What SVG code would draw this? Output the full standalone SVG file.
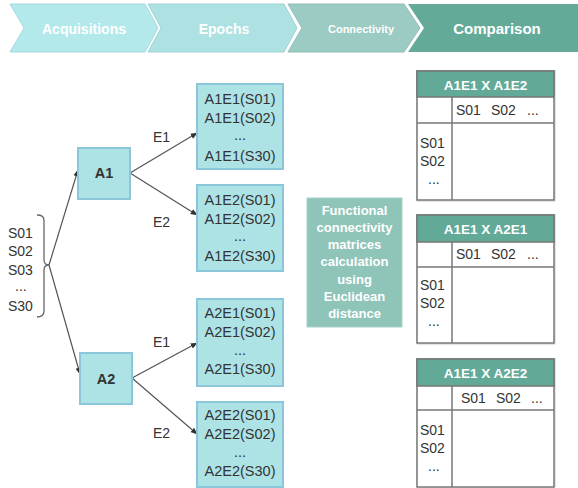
<svg xmlns="http://www.w3.org/2000/svg" width="578" height="488" viewBox="0 0 578 488">
<defs>
<marker id="ah" viewBox="0 0 10 10" refX="9" refY="5" markerWidth="7" markerHeight="7" orient="auto" markerUnits="userSpaceOnUse"><path d="M0,1 L10,5 L0,9 Z" fill="#333"/></marker>
<style>
text{font-family:"Liberation Sans",Arial,sans-serif;}
.hd{fill:#fff;font-weight:bold;text-anchor:middle;dominant-baseline:central;}
.nd{fill:#aee3e6;stroke:#8cc6da;stroke-width:2;}
.nt{fill:#333;font-size:14.5px;text-anchor:middle;}
.lb{fill:#333;font-size:14px;}
.edge{stroke:#555;stroke-width:1.2;fill:none;marker-end:url(#ah);}
.tb{fill:#fff;stroke:#777;stroke-width:1.5;}
.th{fill:#62a998;stroke:#777;stroke-width:1.5;}
.tl{stroke:#777;stroke-width:1.5;}
.tt{fill:#333;font-size:14px;}
.tht{fill:#fff;font-size:13.5px;font-weight:bold;text-anchor:middle;dominant-baseline:central;}
.sh{fill:#e4e4e4;}
</style>
</defs>
<rect width="578" height="488" fill="#fff"/>
<g id="header">
<g id="h1"><polygon points="10,4 145,4 158,28 145,52 10,52 24,28" fill="#b3e9eb" stroke="#a4dbe2" stroke-width="1"/><text class="hd" x="84" y="29" font-size="14">Acquisitions</text></g>
<g id="h2"><polygon points="148,4 284,4 297,28 284,52 148,52 161,28" fill="#aee1e2" stroke="#9fd3d6" stroke-width="1"/><text class="hd" x="224" y="29" font-size="14">Epochs</text></g>
<g id="h3"><polygon points="288,4 404,4 420,28 404,52 288,52 302,28" fill="#9bcbc2" stroke="#8fc0b6" stroke-width="1"/><text class="hd" x="361" y="29" font-size="11">Connectivity</text></g>
<g id="h4"><polygon points="408,4 578,4 578,52 408,52 424,28" fill="#64aa98"/><text class="hd" x="497" y="28" font-size="15">Comparison</text></g>
</g>
<g id="subjects">
<text class="lb" x="8" y="238">S01</text>
<text class="lb" x="8" y="256">S02</text>
<text class="lb" x="8" y="275">S03</text>
<text class="lb" x="15" y="291" font-size="11">...</text>
<text class="lb" x="8" y="311">S30</text>
<path d="M37,215 Q44,215 44,220 L44,260 Q44,265 49,265 Q44,265 44,270 L44,311 Q44,317 37,317" fill="none" stroke="#666" stroke-width="1.3"/>
</g>
<g id="connectors">
<line class="edge" x1="49" y1="265" x2="78" y2="170"/>
<line class="edge" x1="49" y1="265" x2="80" y2="374"/>
<line class="edge" x1="130" y1="173" x2="197" y2="133"/>
<line class="edge" x1="130" y1="173" x2="197" y2="215"/>
<line class="edge" x1="132" y1="378" x2="197" y2="343"/>
<line class="edge" x1="132" y1="378" x2="197" y2="434"/>
<text class="lb" x="153" y="142">E1</text>
<text class="lb" x="153" y="227">E2</text>
<text class="lb" x="153" y="347">E1</text>
<text class="lb" x="153" y="438">E2</text>
</g>
<g id="A1"><rect class="nd" x="78" y="148" width="52" height="51"/><text class="nt" x="104" y="178" font-weight="bold" font-size="14">A1</text></g>
<g id="A2"><rect class="nd" x="80" y="353" width="52" height="51"/><text class="nt" x="106" y="384" font-weight="bold" font-size="14">A2</text></g>
<g id="A1E1"><rect class="nd" x="197" y="84" width="86" height="85"/>
<text class="nt" x="240" y="104">A1E1(S01)</text><text class="nt" x="240" y="123">A1E1(S02)</text><text class="nt" x="240" y="140" font-size="11">...</text><text class="nt" x="240" y="161">A1E1(S30)</text></g>
<g id="A1E2"><rect class="nd" x="197" y="185" width="86" height="86"/>
<text class="nt" x="240" y="205">A1E2(S01)</text><text class="nt" x="240" y="224">A1E2(S02)</text><text class="nt" x="240" y="241" font-size="11">...</text><text class="nt" x="240" y="261">A1E2(S30)</text></g>
<g id="A2E1"><rect class="nd" x="197" y="299" width="86" height="87"/>
<text class="nt" x="240" y="318">A2E1(S01)</text><text class="nt" x="240" y="337">A2E1(S02)</text><text class="nt" x="240" y="355" font-size="11">...</text><text class="nt" x="240" y="374">A2E1(S30)</text></g>
<g id="A2E2"><rect class="nd" x="197" y="402" width="86" height="85"/>
<text class="nt" x="240" y="420">A2E2(S01)</text><text class="nt" x="240" y="439">A2E2(S02)</text><text class="nt" x="240" y="457" font-size="11">...</text><text class="nt" x="240" y="476">A2E2(S30)</text></g>
<g id="functional"><rect x="307" y="198" width="95" height="129" fill="#8fc4b9" stroke="#a8d3ca" stroke-width="1"/>
<g fill="#fff" font-size="13" font-weight="bold" text-anchor="middle">
<text x="354.5" y="215">Functional</text><text x="354.5" y="232">connectivity</text><text x="354.5" y="249">matrices</text><text x="354.5" y="266">calculation</text><text x="354.5" y="284">using</text><text x="354.5" y="301">Euclidean</text><text x="354.5" y="318">distance</text></g></g>
<g id="table1">
<rect class="sh" x="416" y="70" width="140" height="132" rx="2"/>
<rect class="tb" x="417" y="71" width="137" height="129"/>
<rect class="th" x="417" y="71" width="137" height="26"/>
<text class="tht" x="485.5" y="85">A1E1 X A1E2</text>
<line class="tl" x1="417" y1="123" x2="554" y2="123"/>
<line class="tl" x1="452" y1="97" x2="452" y2="200"/>
<text class="tt" x="456" y="115">S01</text><text class="tt" x="491" y="115">S02</text><text class="tt" x="527" y="115">...</text>
<text class="tt" x="420" y="148">S01</text><text class="tt" x="420" y="166">S02</text><text class="tt" x="428" y="184" font-size="11">...</text>
</g>
<g id="table2">
<rect class="sh" x="416" y="214" width="140" height="131" rx="2"/>
<rect class="tb" x="417" y="215" width="137" height="128"/>
<rect class="th" x="417" y="215" width="137" height="27"/>
<text class="tht" x="485.5" y="229">A1E1 X A2E1</text>
<line class="tl" x1="417" y1="267" x2="554" y2="267"/>
<line class="tl" x1="452" y1="242" x2="452" y2="343"/>
<text class="tt" x="456" y="259">S01</text><text class="tt" x="491" y="259">S02</text><text class="tt" x="527" y="259">...</text>
<text class="tt" x="420" y="290">S01</text><text class="tt" x="420" y="308">S02</text><text class="tt" x="428" y="326" font-size="11">...</text>
</g>
<g id="table3">
<rect class="sh" x="416" y="358" width="140" height="130" rx="2"/>
<rect class="tb" x="417" y="359" width="137" height="128"/>
<rect class="th" x="417" y="359" width="137" height="27"/>
<text class="tht" x="485.5" y="373">A1E1 X A2E2</text>
<line class="tl" x1="417" y1="410" x2="554" y2="410"/>
<line class="tl" x1="452" y1="386" x2="452" y2="487"/>
<text class="tt" x="461" y="403">S01</text><text class="tt" x="496" y="403">S02</text><text class="tt" x="531" y="403">...</text>
<text class="tt" x="420" y="435">S01</text><text class="tt" x="420" y="453">S02</text><text class="tt" x="428" y="471" font-size="11">...</text>
</g>
</svg>
